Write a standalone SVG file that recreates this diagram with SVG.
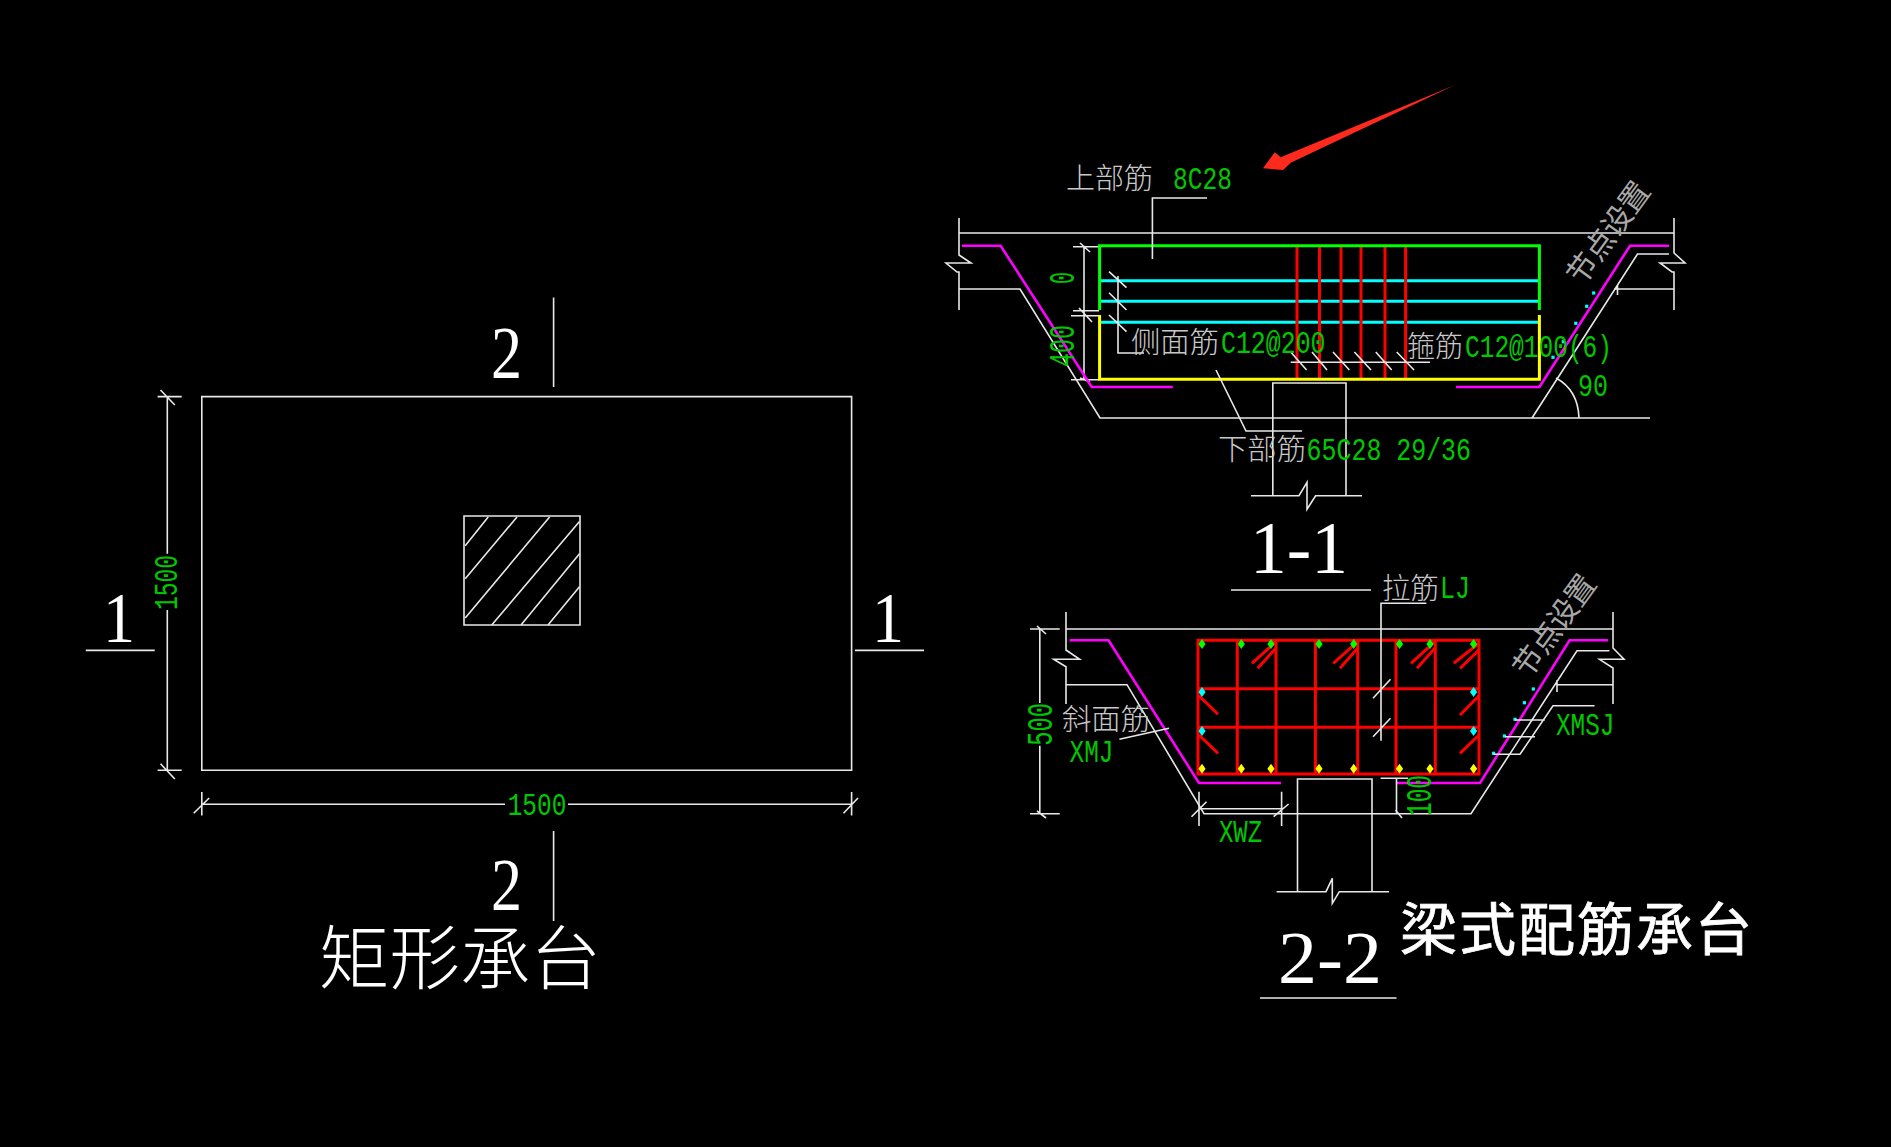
<svg xmlns="http://www.w3.org/2000/svg" xmlns:xlink="http://www.w3.org/1999/xlink" width="1891" height="1147" viewBox="0 0 1891 1147">
<style>
.w{fill:none;stroke:#e8e8e8;stroke-width:1.6}
.m{fill:none;stroke:#f0f;stroke-width:2.6}
.gr{fill:none;stroke:#0f0;stroke-width:3}
.ye{fill:none;stroke:#ff0;stroke-width:3}
.cy{fill:none;stroke:#0ff;stroke-width:3}
.re{fill:none;stroke:#f00;stroke-width:3}
.t{font-family:"Liberation Mono",monospace;fill:#00c800;font-size:32px}
.v{font-size:37px}
.s{font-family:"Liberation Serif",serif;fill:#fff}
.c{font-family:"Noto Sans CJK SC",sans-serif;font-weight:300;fill:#c8c8c8;font-size:29px}
.n{font-family:"Noto Sans CJK SC",sans-serif;fill:#a8a8a8;font-size:30px}
</style>
<defs>
<path id="dia" d="M0-5 3.6 0 0 5-3.6 0Z"/>
<rect id="dot" x="-1.6" y="-1.6" width="3.2" height="3.2" fill="#0ff"/>
</defs>
<rect width="1891" height="1147" fill="#000"/>

<g id="plan">
<path class="w" d="M201.8 396.6H851.6V770.3H201.8Z"/>
<path class="w" d="M464 516H580V625H464Z"/>
<path class="w" d="M488.2 517 465.2 545.7M517 517 465.2 578.7M549.6 517 465.2 618M579.5 521.6 491.7 625M579.5 553.7 521 625M579.5 586.7 548 625"/>
<path class="w" d="M167.3 396.6V553.7M167.3 610V770.3M157.6 396.6H181.7M160.5 390 174.8 405M157.6 770.3H181.7M160.5 763.7 174.8 779"/>
<path class="w" d="M201.8 804.3H505M568 804.3H851.6M201.8 792V815.6M851.6 792V815.6M193.7 813.2 209.2 798M843.5 813.2 858 798"/>
<path class="w" d="M553.6 297.5V387M553.6 831V921M85.8 650.4H154.7M855 650.4H924"/>
<text class="t" transform="translate(177,610) rotate(-90)" textLength="55" lengthAdjust="spacingAndGlyphs" style="font-size:34px">1500</text>
<text class="t" x="507.7" y="815" textLength="58.6" lengthAdjust="spacingAndGlyphs">1500</text>
<text class="s" x="491" y="378" font-size="75" textLength="31" lengthAdjust="spacingAndGlyphs">2</text>
<text class="s" x="491" y="910" font-size="75" textLength="31" lengthAdjust="spacingAndGlyphs">2</text>
<text class="s" x="103" y="642" font-size="72" textLength="32" lengthAdjust="spacingAndGlyphs">1</text>
<text class="s" x="872" y="642" font-size="72" textLength="32" lengthAdjust="spacingAndGlyphs">1</text>
<text x="319" y="984" font-family="Noto Sans CJK SC,sans-serif" font-weight="300" font-size="70" fill="#fff" textLength="282" lengthAdjust="spacingAndGlyphs">矩形承台</text>
</g>

<g id="arrow">
<path fill="#ff2a1e" d="M1455 85 1290.7 162.7 1283.2 170 1263 168.3 1274.8 152.3 1280.7 157.3Z"/>
</g>

<g id="section-1-1">
<path class="w" d="M959 233H1674M959 218V255L971 263H946L957 272H959V310M959 289H1020L1100 418H1650M1532 418 1637.5 254H1669M1674 218V253L1685 263H1660L1672 272H1674V310M1614 289H1674M1617.5 285V295"/>
<path class="w" d="M1272.8 495.7V383H1346V495.7M1251 495.7H1299L1307 482.3V509.3L1315.6 495.7H1362"/>
<path class="w" d="M1084 245.7V379.3M1073 246.7H1099M1073 310.7H1099M1071 315.7H1099M1071 379.7H1099M1080 243 1090 252M1079 308 1092 322M1080 378 1090 382"/>
<path class="w" d="M1556 378Q1578 390 1579 418"/>
<path class="m" d="M962 245.7H1000.6L1091.7 387H1172.8M1456 387H1539.4L1630 245.7H1669"/>
<path class="cy" d="M1099.6 280.7H1539M1099.6 301.3H1539M1099.6 322.3H1539"/>
<path class="re" d="M1297 246V379M1319.5 246V379M1341 246V379M1361 246V379M1385 246V379M1405.6 246V379"/>
<path class="gr" d="M1099.6 310V245.7H1539.4V310"/>
<path class="ye" d="M1099.6 315V379.3H1539.4V315"/>
<path class="w" d="M1207 198H1152.4V259M1144 353H1118V276M1109 271.7 1126.5 287.7M1109 292.7 1126.5 310M1109 315 1126.5 331.7"/>
<path class="w" d="M1290.7 362.3H1430M1290.7 352 1306.6 370M1312 352 1327 370M1333 352 1349.4 370M1354.4 352 1371 370M1375.8 352 1391.7 370M1396.7 352 1414 370"/>
<path class="w" d="M1216 370 1246 431H1302"/>
<g id="dots-1-1">
<use xlink:href="#dot" x="1593.7" y="293"/><use xlink:href="#dot" x="1586.7" y="306.3"/><use xlink:href="#dot" x="1575.8" y="323.3"/><use xlink:href="#dot" x="1563.3" y="341.7"/><use xlink:href="#dot" x="1553" y="357.3"/>
</g>
<text class="c" x="1066" y="189" textLength="87" lengthAdjust="spacingAndGlyphs">上部筋</text>
<text class="t" x="1173" y="189" textLength="59" lengthAdjust="spacingAndGlyphs">8C28</text>
<text class="t v" transform="translate(1074,284) rotate(-90)" textLength="12" lengthAdjust="spacingAndGlyphs">0</text>
<text class="t v" transform="translate(1074,367) rotate(-90)" textLength="42" lengthAdjust="spacingAndGlyphs">400</text>
<text class="c" x="1131" y="353" textLength="88" lengthAdjust="spacingAndGlyphs">侧面筋</text>
<text class="t" x="1221" y="353" textLength="104.5" lengthAdjust="spacingAndGlyphs">C12@200</text>
<text class="c" x="1407" y="357" textLength="56" lengthAdjust="spacingAndGlyphs">箍筋</text>
<text class="t" x="1465" y="357" textLength="147" lengthAdjust="spacingAndGlyphs">C12@100(6)</text>
<text class="t" x="1578" y="396" textLength="30" lengthAdjust="spacingAndGlyphs">90</text>
<text class="c" x="1218" y="460" textLength="88" lengthAdjust="spacingAndGlyphs">下部筋</text>
<text class="t" x="1306.6" y="460" textLength="164.4" lengthAdjust="spacingAndGlyphs">65C28 29/36</text>
<text class="n" transform="translate(1617,239) rotate(-54)" text-anchor="middle" textLength="118" lengthAdjust="spacing">节点设置</text>
<path class="w" d="M1231 590H1371"/>
<text class="s" x="1250" y="573" font-size="74" textLength="98" lengthAdjust="spacingAndGlyphs">1-1</text>
</g>

<g id="section-2-2">
<path class="w" d="M1066 629H1613M1066 612V650L1079.6 659.3H1053.7L1066 666.7V704M1066 684.7H1127L1204 813.7H1471L1577 650.7H1609.4M1613 612V648L1624 659.3H1599.5L1613 668V704M1557 684.7H1613M1557 680V692"/>
<path class="w" d="M1297.5 891.7V779H1372V891.7M1276.6 891.7H1326L1332.3 878.3V903.3L1339.3 891.7H1389"/>
<path class="m" d="M1069.6 640.3H1108.5L1199 783H1281M1396.5 783H1480L1569.6 640.3H1608"/>
<path class="re" d="M1198 640.3H1479V774H1198ZM1198 688.7H1479M1198 727.3H1479M1237.3 640.3V774M1276 640.3V774M1315.4 640.3V774M1357.7 640.3V774M1396 640.3V774M1435.3 640.3V774"/>
<path class="re" d="M1276 641.7 1252 663.3M1276 648 1257.7 668.3M1357.7 641.7 1333.3 663.3M1357.7 648 1340 668.3M1435 641.7 1411 663.3M1435 648 1417 668.3M1479 643.3 1453.7 663.3M1479 650 1460 668.3M1199 695.7 1218 714.3M1199 735 1218 753.3M1479 695.7 1460 715M1479 735 1460 753.3"/>
<g id="bars-top" fill="#0f0">
<use xlink:href="#dia" x="1202" y="644"/><use xlink:href="#dia" x="1241.3" y="644"/><use xlink:href="#dia" x="1271" y="644"/><use xlink:href="#dia" x="1319" y="644"/><use xlink:href="#dia" x="1353.7" y="644"/><use xlink:href="#dia" x="1399.5" y="644"/><use xlink:href="#dia" x="1430" y="644"/><use xlink:href="#dia" x="1473.6" y="644"/>
</g>
<g id="bars-bottom" fill="#ff0">
<use xlink:href="#dia" x="1202" y="768.7"/><use xlink:href="#dia" x="1241.3" y="768.7"/><use xlink:href="#dia" x="1271" y="768.7"/><use xlink:href="#dia" x="1319" y="768.7"/><use xlink:href="#dia" x="1353.7" y="768.7"/><use xlink:href="#dia" x="1399.5" y="768.7"/><use xlink:href="#dia" x="1430" y="768.7"/><use xlink:href="#dia" x="1473.6" y="768.7"/>
</g>
<g id="bars-side" fill="#0ff">
<use xlink:href="#dia" x="1202" y="692"/><use xlink:href="#dia" x="1473.6" y="692"/><use xlink:href="#dia" x="1202" y="731"/><use xlink:href="#dia" x="1473.6" y="731"/>
</g>
<g id="dots-2-2">
<use xlink:href="#dot" x="1533.3" y="689"/><use xlink:href="#dot" x="1524.4" y="702.7"/><use xlink:href="#dot" x="1515" y="719.3"/><use xlink:href="#dot" x="1504.4" y="736"/><use xlink:href="#dot" x="1493.5" y="753.3"/>
</g>
<path class="w" d="M1426.4 603.3H1381V740.7M1373 698.3 1390.5 679.3M1373 736.7 1390.5 718.3"/>
<path class="w" d="M1594.5 705.7H1553L1520 754.3H1493.5M1544.8 720H1515M1535 736.7H1505"/>
<path class="w" d="M1119.4 739.3 1169 728.3"/>
<path class="w" d="M1039.8 629V703M1039.8 745.7V813.7M1030 629H1059.7M1030 813.7H1059.7M1037 626 1046 634M1037 811 1046 818"/>
<path class="w" d="M1396.5 778V813M1380.6 778.3H1408M1395.5 810 1402 818"/>
<path class="w" d="M1199 791.7V826M1281.6 791.7V826M1199 808.7H1281.6M1191.5 816.7 1206.5 801.7M1273.6 816.7 1288.6 804"/>
<text class="t v" transform="translate(1052,745.7) rotate(-90)" textLength="42.7" lengthAdjust="spacingAndGlyphs">500</text>
<text class="t v" transform="translate(1431,816) rotate(-90)" textLength="41" lengthAdjust="spacingAndGlyphs">100</text>
<text class="c" x="1382" y="599" textLength="57" lengthAdjust="spacingAndGlyphs">拉筋</text>
<text class="t" x="1440" y="598" textLength="30" lengthAdjust="spacingAndGlyphs">LJ</text>
<text class="c" x="1062" y="730" textLength="88" lengthAdjust="spacingAndGlyphs">斜面筋</text>
<text class="t" x="1069.6" y="762" textLength="43.8" lengthAdjust="spacingAndGlyphs">XMJ</text>
<text class="t" x="1556" y="735" textLength="58.4" lengthAdjust="spacingAndGlyphs">XMSJ</text>
<text class="t" x="1219" y="841.7" textLength="43" lengthAdjust="spacingAndGlyphs">XWZ</text>
<text class="n" transform="translate(1563,632) rotate(-54)" text-anchor="middle" textLength="118" lengthAdjust="spacing">节点设置</text>
<path class="w" d="M1260 998H1396.5"/>
<text class="s" x="1278" y="983" font-size="74" textLength="104" lengthAdjust="spacingAndGlyphs">2-2</text>
<text x="1400" y="950" font-family="Noto Sans CJK SC,sans-serif" font-size="57" fill="#fff" stroke="#fff" stroke-width="0.8" textLength="352" lengthAdjust="spacing">梁式配筋承台</text>
</g>
</svg>
